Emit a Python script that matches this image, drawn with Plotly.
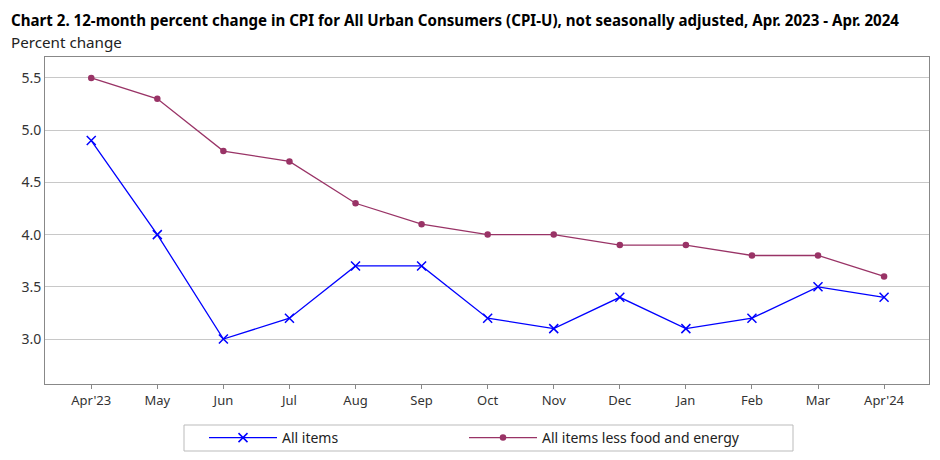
import plotly.graph_objects as go

months = ["Apr'23", "May", "Jun", "Jul", "Aug", "Sep", "Oct", "Nov", "Dec", "Jan", "Feb", "Mar", "Apr'24"]
all_items = [4.9, 4.0, 3.0, 3.2, 3.7, 3.7, 3.2, 3.1, 3.4, 3.1, 3.2, 3.5, 3.4]
core = [5.5, 5.3, 4.8, 4.7, 4.3, 4.1, 4.0, 4.0, 3.9, 3.9, 3.8, 3.8, 3.6]
y_ticks = [3.0, 3.5, 4.0, 4.5, 5.0, 5.5]

FONT = "Noto Sans"
x_idx = list(range(len(months)))

# The page body has an 8px margin, so figure pixel = page pixel - 8.
OFF = 8
FW, FH = 940 - OFF, 460 - OFF
L, R, T, B = 45 - OFF, 929 - OFF, 57 - OFF, 384 - OFF
W, H = R - L, B - T
def px(x): return (x - OFF - L) / W   # page x -> paper
def py(y): return (B - (y - OFF)) / H  # page y -> paper

fig = go.Figure()
fig.add_trace(go.Scatter(
    x=x_idx, y=all_items, name="All items", mode="lines+markers",
    line=dict(color="#0000FF", width=1.3),
    marker=dict(symbol="x-thin", size=9, line=dict(color="#0000FF", width=1.5)),
    legend="legend",
))
fig.add_trace(go.Scatter(
    x=x_idx, y=core, name="All items less food and energy", mode="lines+markers",
    line=dict(color="#993366", width=1.3),
    marker=dict(symbol="circle", size=6.5, color="#993366"),
    legend="legend2",
))

leg_common = dict(
    orientation="h", yanchor="middle", y=py(438), xanchor="left",
    bgcolor="rgba(0,0,0,0)", borderwidth=0,
    font=dict(family=FONT, size=14, color="#222222"),
    itemwidth=68,
)

fig.update_layout(
    width=FW, height=FH,
    margin=dict(l=L, r=FW - R, t=T, b=FH - B, autoexpand=False),
    paper_bgcolor="white", plot_bgcolor="white",
    font=dict(family=FONT, size=13, color="#333333"),
    showlegend=True,
    legend=dict(x=px(204), **leg_common),
    legend2=dict(x=px(464), **leg_common),
    xaxis=dict(
        range=[-0.7, 12.68], tickmode="array", tickvals=x_idx, ticktext=months,
        showgrid=False, zeroline=False, showline=True, linecolor="#888888", linewidth=1,
        mirror=True, ticks="outside", ticklen=4, tickcolor="#888888", automargin=False,
        tickfont=dict(family=FONT, size=13, color="#333333"),
    ),
    yaxis=dict(
        range=[2.57, 5.7], tickmode="array", tickvals=y_ticks,
        ticktext=[f"{v:.1f}" for v in y_ticks],
        showgrid=True, gridcolor="#c8c8c8", gridwidth=1, zeroline=False,
        showline=True, linecolor="#888888", linewidth=1, mirror=True, automargin=False,
        ticks="", tickfont=dict(family=FONT, size=14, color="#333333"),
    ),
    shapes=[
        dict(type="rect", xref="paper", yref="paper",
             x0=px(184), x1=px(793), y0=py(451), y1=py(425),
             line=dict(color="#bbbbbb", width=1), fillcolor="rgba(0,0,0,0)"),
    ],
    annotations=[
        dict(text="<b>Chart 2. 12-month percent change in CPI for All Urban Consumers (CPI-U), not seasonally adjusted, Apr. 2023 - Apr. 2024</b>",
             xref="paper", yref="paper", x=px(10), y=py(8.5), xanchor="left", yanchor="top",
             showarrow=False, borderpad=0, font=dict(family=FONT, size=15.1, color="#000000")),
        dict(text="Percent change", xref="paper", yref="paper", x=px(10), y=py(30.5),
             xanchor="left", yanchor="top", showarrow=False, borderpad=0,
             font=dict(family=FONT, size=15.2, color="#222222")),
    ],
)

fig.write_html("out.html")
